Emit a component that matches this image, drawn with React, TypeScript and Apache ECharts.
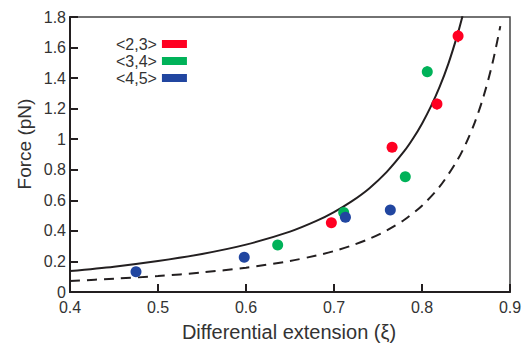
import React, { useEffect, useRef } from "react";
import * as echarts from "echarts";

const xTicks = [0.4, 0.5, 0.6, 0.7, 0.8, 0.9];
const yTicks = [0, 0.2, 0.4, 0.6, 0.8, 1, 1.2, 1.4, 1.6, 1.8];

const series23: [number, number][] = [
  [0.697, 0.454],
  [0.766, 0.947],
  [0.817, 1.23],
  [0.841, 1.675],
];
const series34: [number, number][] = [
  [0.636, 0.308],
  [0.711, 0.521],
  [0.781, 0.755],
  [0.806, 1.442],
];
const series45: [number, number][] = [
  [0.475, 0.133],
  [0.598, 0.227],
  [0.713, 0.489],
  [0.764, 0.537],
];

// [x, y, halfError]
const errorBars: [number, number, number][] = [
  [0.806, 1.442, 0.035],
  [0.817, 1.23, 0.035],
  [0.841, 1.675, 0.04],
];

const solidCurve: [number, number][] = [
  [0.4, 0.137],
  [0.45, 0.166],
  [0.5, 0.203],
  [0.55, 0.249],
  [0.6, 0.31],
  [0.65, 0.395],
  [0.68, 0.465],
  [0.7, 0.523],
  [0.72, 0.593],
  [0.74, 0.678],
  [0.76, 0.786],
  [0.78, 0.923],
  [0.79, 1.006],
  [0.8, 1.102],
  [0.81, 1.213],
  [0.82, 1.342],
  [0.83, 1.495],
  [0.84, 1.678],
  [0.846, 1.805],
];

const dashedCurve: [number, number][] = [
  [0.4, 0.072],
  [0.45, 0.087],
  [0.5, 0.104],
  [0.55, 0.128],
  [0.6, 0.159],
  [0.65, 0.203],
  [0.68, 0.239],
  [0.7, 0.268],
  [0.72, 0.304],
  [0.74, 0.348],
  [0.76, 0.403],
  [0.78, 0.473],
  [0.8, 0.565],
  [0.82, 0.689],
  [0.84, 0.861],
  [0.85, 0.973],
  [0.86, 1.11],
  [0.87, 1.281],
  [0.88, 1.495],
  [0.889, 1.74],
];

const RED = "#FF0022";
const GREEN = "#00B259";
const BLUE = "#2146A0";
const INK = "#231f20";
const TEXT = "#333";
const FONT = "Liberation Sans, Arial, sans-serif";

export default function App() {
  const ref = useRef<HTMLDivElement>(null);
  useEffect(() => {
    if (!ref.current) return;
    const chart = echarts.init(ref.current, undefined, { renderer: "svg" });
    const scatter = (name: string, data: [number, number][], color: string) => ({
      name,
      type: "scatter",
      data,
      symbol: "circle",
      symbolSize: 11,
      itemStyle: { color, opacity: 1 },
      z: 5,
    });
    chart.setOption({
      animation: false,
      backgroundColor: "#fff",
      textStyle: { fontFamily: FONT },
      grid: {
        left: 70,
        top: 17,
        width: 440,
        height: 275,
        show: true,
        borderColor: "#444",
        borderWidth: 1.5,
        backgroundColor: "transparent",
      },
      legend: {
        orient: "vertical",
        left: 116,
        top: 36,
        align: "right",
        itemWidth: 25,
        itemHeight: 8,
        itemGap: 1,
        padding: 0,
        textStyle: { fontSize: 16, color: TEXT, fontFamily: FONT },
        data: [
          { name: "<2,3>", icon: "rect" },
          { name: "<3,4>", icon: "rect" },
          { name: "<4,5>", icon: "rect" },
        ],
      },
      xAxis: {
        type: "value",
        min: xTicks[0],
        max: xTicks[xTicks.length - 1],
        interval: 0.1,
        axisLine: { show: true, lineStyle: { color: INK, width: 2 } },
        axisTick: { show: true, inside: true, length: 8, lineStyle: { color: INK, width: 2 } },
        axisLabel: { color: TEXT, fontSize: 16, margin: 7, fontFamily: FONT },
        splitLine: { show: false },
      },
      yAxis: {
        type: "value",
        min: yTicks[0],
        max: yTicks[yTicks.length - 1],
        interval: 0.2,
        axisLine: { show: true, lineStyle: { color: INK, width: 2 } },
        axisTick: { show: true, inside: true, length: 8, lineStyle: { color: INK, width: 2 } },
        axisLabel: { color: TEXT, fontSize: 16, margin: 4, fontFamily: FONT },
        splitLine: { show: false },
      },
      graphic: [
        {
          type: "text",
          x: 289,
          y: 332,
          style: {
            text: "Differential extension (ξ)",
            fill: TEXT,
            font: `20px ${FONT}`,
            textAlign: "center",
            textVerticalAlign: "middle",
          },
        },
        {
          type: "text",
          x: 24,
          y: 144,
          rotation: Math.PI / 2,
          style: {
            text: "Force (pN)",
            fill: TEXT,
            font: `19px ${FONT}`,
            textAlign: "center",
            textVerticalAlign: "middle",
          },
        },
      ],
      series: [
        {
          name: "fit",
          type: "line",
          data: solidCurve,
          smooth: 0.3,
          symbol: "none",
          lineStyle: { color: INK, width: 2 },
          clip: true,
          z: 3,
        },
        {
          name: "fit2",
          type: "line",
          data: dashedCurve,
          smooth: 0.3,
          symbol: "none",
          lineStyle: { color: INK, width: 2, type: [10, 7] },
          clip: true,
          z: 3,
        },
        scatter("<2,3>", series23, RED),
        scatter("<3,4>", series34, GREEN),
        scatter("<4,5>", series45, BLUE),
        {
          name: "err",
          type: "custom",
          data: errorBars,
          z: 6,
          renderItem: (params: any, api: any) => {
            const x = api.value(0);
            const y = api.value(1);
            const e = api.value(2);
            const p1 = api.coord([x, y - e]);
            const p2 = api.coord([x, y + e]);
            const color = params.dataIndex === 0 ? GREEN : RED;
            return {
              type: "line",
              shape: { x1: p1[0], y1: p1[1], x2: p2[0], y2: p2[1] },
              style: { stroke: color, lineWidth: 2 },
            };
          },
        },
      ],
    });
    return () => chart.dispose();
  }, []);
  return <div ref={ref} style={{ width: 527, height: 344, position: "absolute", left: 0, top: 0 }} />;
}
